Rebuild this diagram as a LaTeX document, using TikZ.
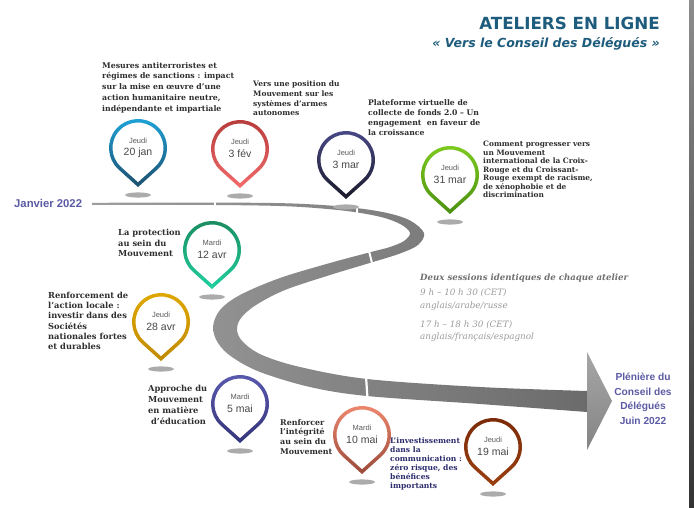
\documentclass[tikz,border=0pt]{standalone}
\usepackage{fontspec}
\setmainfont{DejaVu Serif}
\newfontfamily\lsans{Liberation Sans}
\newfontfamily\dsans{DejaVu Sans}
\usetikzlibrary{calc}
\definecolor{titlecol}{HTML}{1D5C7C}
\definecolor{janvcol}{HTML}{5B5BA5}
\definecolor{labcol}{HTML}{2E2E2E}
\definecolor{navylab}{HTML}{2D2D6E}
\definecolor{sesshead}{HTML}{707070}
\definecolor{sesscol}{HTML}{9B9B9B}
\definecolor{daycol}{HTML}{5A5A5A}
\definecolor{datecol}{HTML}{484848}
\definecolor{shadowcol}{HTML}{ABABAB}
\definecolor{pAt}{HTML}{1EA5DB}\definecolor{pAb}{HTML}{1D4F6E}
\definecolor{pBt}{HTML}{B53A3A}\definecolor{pBb}{HTML}{F26B6B}
\definecolor{pCt}{HTML}{4A4A8A}\definecolor{pCb}{HTML}{1A1A2A}
\definecolor{pDt}{HTML}{80CC20}\definecolor{pDb}{HTML}{4A9010}
\definecolor{pEt}{HTML}{1A8A5E}\definecolor{pEb}{HTML}{20D0A0}
\definecolor{pFt}{HTML}{E0A800}\definecolor{pFb}{HTML}{C08A00}
\definecolor{pGt}{HTML}{5A5AB0}\definecolor{pGb}{HTML}{35357A}
\definecolor{pHt}{HTML}{F08A70}\definecolor{pHb}{HTML}{9A4A3A}
\definecolor{pIt}{HTML}{7A2A08}\definecolor{pIb}{HTML}{9A4010}
\tikzset{
  lab/.style={anchor=north west, inner sep=0pt, align=left, text=labcol, font=\bfseries},
  pinday/.style={inner sep=0pt, text=daycol, font=\lsans\fontsize{7.5}{8}\selectfont},
  pindate/.style={inner sep=0pt, text=datecol, font=\lsans\fontsize{10.5}{11}\selectfont},
  sess/.style={anchor=north west, inner sep=0pt, text=sesscol, font=\itshape\fontsize{8.8}{10}\selectfont},
}
\newcommand\mypin[7]{%
  \path[even odd rule, top color=#4, bottom color=#5]
    ($(#2,#3)+(131.9:29)$) arc[start angle=131.9, end angle=408.1, radius=29] -- ($(#2,#3)+(0,39)$) -- cycle
    ($(#2,#3)+(131.9:25.5)$) arc[start angle=131.9, end angle=408.1, radius=25.5] -- ($(#2,#3)+(0,34.3)$) -- cycle;
  \node[pinday] (#1d) at ($(#2,#3)+(0,-7)$) {#6};
  \node[pindate] (#1t) at ($(#2,#3)+(0,5)$) {#7};
  \fill[shadowcol] ($(#2,#3)+(0,47)$) ellipse[x radius=13, y radius=2.6];
}
\begin{document}
\begin{tikzpicture}[x=1pt,y=-1pt]
\useasboundingbox (0,0) rectangle (694,508);
\fill[white] (0,0) rectangle (694,508);
% right dark bar
\shade[top color=black!45, bottom color=black!80] (689,0) rectangle (694,508);

% title
\node[anchor=base east, inner sep=0pt, text=titlecol, font=\dsans\bfseries\fontsize{16.7}{18}\selectfont] (title) at (660,30) {ATELIERS EN LIGNE};
\node[anchor=base east, inner sep=0pt, text=titlecol, font=\dsans\bfseries\itshape\fontsize{12.5}{14}\selectfont] (subtitle) at (660,48) {« Vers le Conseil des Délégués »};

% road
\shade[left color=black!38, right color=black!58]
  plot[smooth, tension=0.55] coordinates {(92,202.8) (215,202.6) (290,203.4) (345,206.8) (385,212.5) (410,220.5) (424,233) (418,245) (400,253.5) (373,262) (330,275) (285,290) (256,305) (241,318) (237,330) (243,342) (262,355) (300,367) (367,379) (480,387) (587,391)}
  -- plot[smooth, tension=0.55] coordinates {(587,412) (480,404) (367,396) (310,387) (260,372) (232,357) (218,343) (213,327) (220,310) (240,295) (280,278) (330,263) (373,251.5) (390,247) (404,241) (410,233) (401,224.5) (381,217) (345,210.8) (290,206.4) (215,205) (92,204.8)} -- cycle;
\shade[top color=black!35, bottom color=black!48] (587,352) -- (612,401) -- (587,450) -- cycle;
% gaps in the road
\draw[white, line width=1.5] (215,201) -- (215,207);
\draw[white, line width=1.5] (357,205) -- (357,214);
\draw[white, line width=2] (368.5,249) -- (372.5,265);
\draw[white, line width=2.2] (366,376) -- (367.5,399);

% start label
\node[anchor=west, inner sep=0pt, text=janvcol, font=\lsans\bfseries\fontsize{11.3}{12}\selectfont] (janv) at (14,203) {Janvier 2022};

% end label
\node[inner sep=0pt, align=center, text=janvcol, font=\lsans\bfseries\fontsize{10.2}{14.5}\selectfont, anchor=north] (pleniere) at (643,373) {Plénière du\\Conseil des\\Délégués\\Juin 2022};

% pins
\mypin{p1}{138}{148}{pAt}{pAb}{Jeudi}{20 jan}
\mypin{p2}{240}{149}{pBt}{pBb}{Jeudi}{3 fév}
\mypin{p3}{346}{160}{pCt}{pCb}{Jeudi}{3 mar}
\mypin{p4}{450}{175}{pDt}{pDb}{Jeudi}{31 mar}
\mypin{p5}{212}{250}{pEt}{pEb}{Mardi}{12 avr}
\mypin{p6}{161}{322}{pFt}{pFb}{Jeudi}{28 avr}
\mypin{p7}{240}{404}{pGt}{pGb}{Mardi}{5 mai}
\mypin{p8}{362}{435}{pHt}{pHb}{Mardi}{10 mai}
\mypin{p9}{493}{447}{pIt}{pIb}{Jeudi}{19 mai}

% labels
\node[lab, font=\bfseries\fontsize{7.8}{10.8}\selectfont] (l1) at (102,62) {Mesures antiterroristes et\\régimes de sanctions : impact\\sur la mise en œuvre d’une\\action humanitaire neutre,\\indépendante et impartiale};
\node[lab, font=\bfseries\fontsize{7.5}{9.6}\selectfont] (l2) at (253,81) {Vers une position du\\Mouvement sur les\\systèmes d’armes\\autonomes};
\node[lab, font=\bfseries\fontsize{7.7}{10.2}\selectfont] (l3) at (368,99) {Plateforme virtuelle de\\collecte de fonds 2.0 – Un\\engagement\ \ en faveur de\\la croissance};
\node[lab, font=\bfseries\fontsize{7.4}{8.5}\selectfont] (l4) at (483,141) {Comment progresser vers\\un Mouvement\\international de la Croix-\\Rouge et du Croissant-\\Rouge exempt de racisme,\\de xénophobie et de\\discrimination};
\node[lab, font=\bfseries\fontsize{8.3}{10.5}\selectfont] (l5) at (118,229) {La protection\\au sein du\\Mouvement};
\node[lab, font=\bfseries\fontsize{8.3}{10.2}\selectfont] (l6) at (48,292) {Renforcement de\\l’action locale :\\investir dans des\\Sociétés\\nationales fortes\\et durables};
\node[lab, font=\bfseries\fontsize{8.3}{11}\selectfont] (l7) at (148,385) {Approche du\\Mouvement\\en matière\\\ d’éducation};
\node[lab, font=\bfseries\fontsize{7.9}{9.7}\selectfont] (l8) at (280,419) {Renforcer\\l’intégrité\\au sein du\\Mouvement};
\node[lab, text=navylab, font=\bfseries\fontsize{7.6}{9}\selectfont] (l9) at (390,438) {L’investissement\\dans la\\communication :\\zéro risque, des\\bénéfices\\importants};

% sessions
\node[anchor=north west, inner sep=0pt, text=sesshead, font=\bfseries\itshape\fontsize{8.6}{10}\selectfont] (s0) at (420,274) {Deux sessions identiques de chaque atelier};
\node[sess] (s1) at (420,289) {9 h – 10 h 30 (CET)};
\node[sess] (s2) at (420,302) {anglais/arabe/russe};
\node[sess] (s3) at (420,321) {17 h – 18 h 30 (CET)};
\node[sess] (s4) at (420,333) {anglais/français/espagnol};
\end{tikzpicture}
\end{document}
